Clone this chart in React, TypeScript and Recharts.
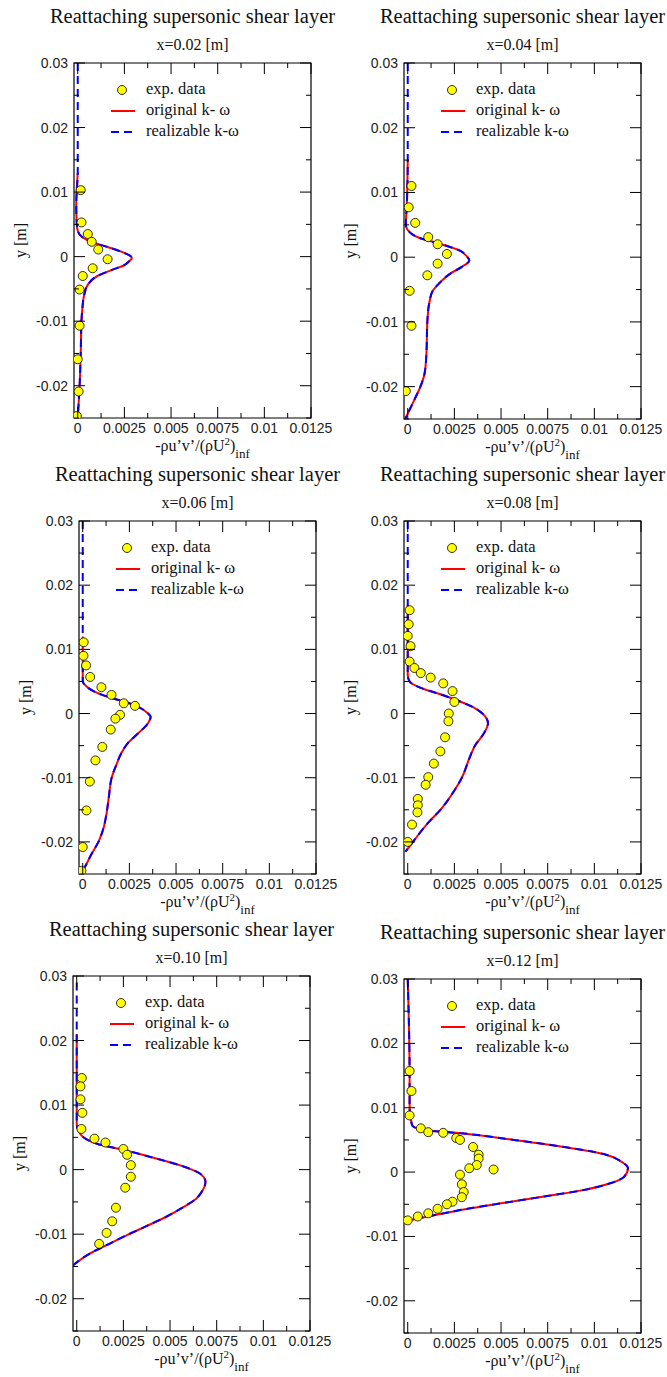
import React from 'react';
import { ComposedChart, Scatter, Line, XAxis, YAxis, ReferenceArea } from 'recharts';

type Pt = { x: number; y: number };

// axis ticks (xmgrace style: major + minor)
const xTicks = [0, 0.00125, 0.0025, 0.00375, 0.005, 0.00625, 0.0075, 0.00875, 0.01, 0.01125, 0.0125];
const xTickLabels = ['0', '', '0.0025', '', '0.005', '', '0.0075', '', '0.01', '', '0.0125'];
const yTicks = [-0.025, -0.02, -0.015, -0.01, -0.005, 0, 0.005, 0.01, 0.015, 0.02, 0.025, 0.03];
const yTickLabels = ['', '-0.02', '', '-0.01', '', '0', '', '0.01', '', '0.02', '', '0.03'];

const stations = ['x=0.02 [m]', 'x=0.04 [m]', 'x=0.06 [m]', 'x=0.08 [m]', 'x=0.10 [m]', 'x=0.12 [m]'];

// experimental data
const exp02: Pt[] = [
  { x: 0.00016, y: 0.0103 }, { x: 0.0002, y: 0.0053 }, { x: 0.00054, y: 0.0035 }, { x: 0.00075, y: 0.0023 },
  { x: 0.0011, y: 0.0011 }, { x: 0.0016, y: -0.0004 }, { x: 0.0008, y: -0.0018 }, { x: 0.00027, y: -0.003 },
  { x: 0.0001, y: -0.0051 }, { x: 0.0001, y: -0.0107 }, { x: 0.0, y: -0.0159 }, { x: 0.00005, y: -0.0209 },
  { x: -0.00005, y: -0.0247 },
];
const exp04: Pt[] = [
  { x: 0.0002, y: 0.011 }, { x: 0.00005, y: 0.0077 }, { x: 0.0004, y: 0.0053 }, { x: 0.0011, y: 0.0031 },
  { x: 0.0016, y: 0.002 }, { x: 0.0021, y: 0.0005 }, { x: 0.0016, y: -0.001 }, { x: 0.00105, y: -0.0028 },
  { x: 0.0001, y: -0.0052 }, { x: 0.0002, y: -0.0106 }, { x: -0.0001, y: -0.0207 },
];
const exp06: Pt[] = [
  { x: 0.00005, y: 0.0111 }, { x: 0.00004, y: 0.009 }, { x: 0.00018, y: 0.0075 }, { x: 0.0004, y: 0.0057 },
  { x: 0.001, y: 0.0041 }, { x: 0.00154, y: 0.0029 }, { x: 0.0022, y: 0.0016 }, { x: 0.0028, y: 0.0012 },
  { x: 0.002, y: -0.0002 }, { x: 0.00175, y: -0.0008 }, { x: 0.0015, y: -0.0025 }, { x: 0.00105, y: -0.0052 },
  { x: 0.00068, y: -0.0073 }, { x: 0.00038, y: -0.0106 }, { x: 0.0002, y: -0.0151 }, { x: 0.0, y: -0.0208 },
  { x: -0.00007, y: -0.0245 },
];
const exp08: Pt[] = [
  { x: 0.0001, y: 0.0161 }, { x: 0.00005, y: 0.0139 }, { x: 0.0, y: 0.0121 }, { x: 0.00015, y: 0.0105 },
  { x: 0.0001, y: 0.0081 }, { x: 0.00036, y: 0.0071 }, { x: 0.0007, y: 0.0063 }, { x: 0.00123, y: 0.0056 },
  { x: 0.0019, y: 0.0047 }, { x: 0.0024, y: 0.0035 }, { x: 0.0025, y: 0.0018 }, { x: 0.0022, y: 0.0 },
  { x: 0.00218, y: -0.0012 }, { x: 0.002, y: -0.0037 }, { x: 0.00175, y: -0.0059 }, { x: 0.0014, y: -0.0078 },
  { x: 0.0011, y: -0.0099 }, { x: 0.00096, y: -0.0111 }, { x: 0.00054, y: -0.0133 }, { x: 0.00054, y: -0.0143 },
  { x: 0.00052, y: -0.0154 }, { x: 0.00023, y: -0.0173 }, { x: 0.0, y: -0.02 },
];
const exp10: Pt[] = [
  { x: 0.00027, y: 0.0142 }, { x: 0.0002, y: 0.0129 }, { x: 0.0002, y: 0.0109 }, { x: 0.0003, y: 0.0088 },
  { x: 0.00025, y: 0.0063 }, { x: 0.00095, y: 0.0048 }, { x: 0.00154, y: 0.0042 }, { x: 0.0025, y: 0.0032 },
  { x: 0.0027, y: 0.0023 }, { x: 0.0029, y: 0.0007 }, { x: 0.0029, y: -0.0011 }, { x: 0.0026, y: -0.0028 },
  { x: 0.0021, y: -0.0059 }, { x: 0.0019, y: -0.008 }, { x: 0.0016, y: -0.0098 }, { x: 0.0012, y: -0.0115 },
];
const exp12: Pt[] = [
  { x: 0.0001, y: 0.0157 }, { x: 0.0002, y: 0.0126 }, { x: 0.0001, y: 0.0088 }, { x: 0.0007, y: 0.0068 },
  { x: 0.0011, y: 0.0062 }, { x: 0.0019, y: 0.0061 }, { x: 0.0026, y: 0.0053 }, { x: 0.0028, y: 0.005 },
  { x: 0.0035, y: 0.0039 }, { x: 0.0038, y: 0.0027 }, { x: 0.0038, y: 0.0021 }, { x: 0.0037, y: 0.0011 },
  { x: 0.0033, y: 0.0006 }, { x: 0.0046, y: 0.0004 }, { x: 0.0028, y: -0.0004 }, { x: 0.0029, y: -0.0019 },
  { x: 0.003, y: -0.0031 }, { x: 0.0029, y: -0.0039 }, { x: 0.0024, y: -0.0046 }, { x: 0.0021, y: -0.005 },
  { x: 0.0016, y: -0.0057 }, { x: 0.0011, y: -0.0064 }, { x: 0.00054, y: -0.0069 }, { x: 0.0, y: -0.0075 },
];

// original k-omega profiles (top to bottom)
const orig02: Pt[] = [
  { x: 0.0, y: 0.013 }, { x: -0.00008, y: 0.008 }, { x: -0.00005, y: 0.005 }, { x: 0.0, y: 0.004 },
  { x: 0.00025, y: 0.003 }, { x: 0.0007, y: 0.0023 }, { x: 0.0016, y: 0.0015 }, { x: 0.0024, y: 0.0007 },
  { x: 0.0029, y: -0.0002 }, { x: 0.0028, y: -0.0006 }, { x: 0.0025, y: -0.0013 }, { x: 0.0018, y: -0.0021 },
  { x: 0.00105, y: -0.003 }, { x: 0.00055, y: -0.0043 }, { x: 0.00034, y: -0.006 }, { x: 0.00025, y: -0.008 },
  { x: 0.0002, y: -0.01 }, { x: 0.00016, y: -0.015 }, { x: 0.0001, y: -0.02 }, { x: 0.0, y: -0.025 },
];
const orig04: Pt[] = [
  { x: 0.0, y: 0.015 }, { x: -0.00005, y: 0.008 }, { x: -0.0001, y: 0.005 }, { x: 0.0, y: 0.0042 },
  { x: 0.0006, y: 0.003 }, { x: 0.0018, y: 0.002 }, { x: 0.0028, y: 0.001 }, { x: 0.0032, y: 0.0 },
  { x: 0.0033, y: -0.0005 }, { x: 0.0029, y: -0.0015 }, { x: 0.0023, y: -0.0025 }, { x: 0.0017, y: -0.004 },
  { x: 0.00134, y: -0.0052 }, { x: 0.00116, y: -0.007 }, { x: 0.00105, y: -0.01 }, { x: 0.001, y: -0.015 },
  { x: 0.0009, y: -0.018 }, { x: 0.00068, y: -0.02 }, { x: 0.00036, y: -0.022 }, { x: -0.00014, y: -0.025 },
];
const orig06: Pt[] = [
  { x: 0.0, y: 0.012 }, { x: 0.0, y: 0.005 }, { x: 0.0001, y: 0.0045 }, { x: 0.00057, y: 0.0035 },
  { x: 0.00146, y: 0.0025 }, { x: 0.0023, y: 0.0018 }, { x: 0.003, y: 0.001 }, { x: 0.0035, y: 0.0 },
  { x: 0.00364, y: -0.0005 }, { x: 0.0035, y: -0.0015 }, { x: 0.003, y: -0.003 }, { x: 0.00245, y: -0.0045 },
  { x: 0.0021, y: -0.006 }, { x: 0.0018, y: -0.008 }, { x: 0.00155, y: -0.01 }, { x: 0.0014, y: -0.013 },
  { x: 0.00125, y: -0.016 }, { x: 0.0011, y: -0.018 }, { x: 0.00084, y: -0.02 }, { x: 0.00045, y: -0.022 },
  { x: 0.0001, y: -0.024 }, { x: -0.0001, y: -0.025 },
];
const orig08: Pt[] = [
  { x: 0.0, y: 0.017 }, { x: 0.0, y: 0.008 }, { x: 0.0, y: 0.006 }, { x: 0.0001, y: 0.005 },
  { x: 0.0007, y: 0.004 }, { x: 0.00175, y: 0.003 }, { x: 0.0027, y: 0.002 }, { x: 0.0035, y: 0.001 },
  { x: 0.004, y: 0.0 }, { x: 0.0043, y: -0.0015 }, { x: 0.0041, y: -0.003 }, { x: 0.0036, y: -0.005 },
  { x: 0.0033, y: -0.007 }, { x: 0.0029, y: -0.01 }, { x: 0.0025, y: -0.012 }, { x: 0.00175, y: -0.015 },
  { x: 0.0011, y: -0.017 }, { x: 0.00054, y: -0.019 }, { x: 0.00015, y: -0.0205 }, { x: -0.00012, y: -0.0215 },
];
const orig10: Pt[] = [
  { x: 0.0, y: 0.021 }, { x: 0.0, y: 0.01 }, { x: 0.0, y: 0.007 }, { x: 0.0001, y: 0.006 },
  { x: 0.00032, y: 0.0051 }, { x: 0.0012, y: 0.0039 }, { x: 0.00246, y: 0.0031 }, { x: 0.0039, y: 0.002 },
  { x: 0.0055, y: 0.0007 }, { x: 0.0066, y: -0.0006 }, { x: 0.0069, y: -0.0019 }, { x: 0.00675, y: -0.0032 },
  { x: 0.0064, y: -0.0045 }, { x: 0.0056, y: -0.006 }, { x: 0.0048, y: -0.0073 }, { x: 0.0037, y: -0.0088 },
  { x: 0.0028, y: -0.01 }, { x: 0.0016, y: -0.0117 }, { x: 0.0007, y: -0.013 }, { x: -0.0002, y: -0.0148 },
];
const orig12: Pt[] = [
  { x: 0.0, y: 0.03 }, { x: 0.0001, y: 0.015 }, { x: 0.0001, y: 0.01 }, { x: 0.00023, y: 0.0073 },
  { x: 0.00068, y: 0.0066 }, { x: 0.003, y: 0.006 }, { x: 0.0057, y: 0.005 }, { x: 0.0084, y: 0.0039 },
  { x: 0.0105, y: 0.0028 }, { x: 0.0114, y: 0.0017 }, { x: 0.0118, y: 0.0006 }, { x: 0.0116, y: -0.0007 },
  { x: 0.0109, y: -0.0017 }, { x: 0.0094, y: -0.0028 }, { x: 0.0073, y: -0.0038 }, { x: 0.0051, y: -0.0048 },
  { x: 0.003, y: -0.0058 }, { x: 0.0016, y: -0.0066 }, { x: 0.00054, y: -0.0072 }, { x: -0.00012, y: -0.0077 },
];

// realizable k-omega: same profile, visible from the top of the frame
const real02: Pt[] = [{ x: 0.0, y: 0.03 }, { x: 0.0, y: 0.02 }, ...orig02];
const real04: Pt[] = [{ x: 0.0, y: 0.03 }, ...orig04];
const real06: Pt[] = [{ x: 0.0, y: 0.03 }, ...orig06];
const real08: Pt[] = [{ x: 0.0, y: 0.03 }, ...orig08];
const real10: Pt[] = [{ x: 0.0, y: 0.029 }, ...orig10];
const real12: Pt[] = [...orig12];

const expSets = [exp02, exp04, exp06, exp08, exp10, exp12];
const origSets = [orig02, orig04, orig06, orig08, orig10, orig12];
const realSets = [real02, real04, real06, real08, real10, real12];

// plot frames on the page
const frames = [
  { l: 74, r: 311, t: 63, b: 418 },
  { l: 404, r: 641, t: 63, b: 419 },
  { l: 79, r: 316, t: 521, b: 874 },
  { l: 404, r: 641, t: 521, b: 874 },
  { l: 73, r: 310, t: 976, b: 1331 },
  { l: 404, r: 641, t: 979, b: 1333 },
];

const SERIF = "'Liberation Serif', 'Times New Roman', Times, serif";
const SANS = "'Liberation Sans', Arial, Helvetica, sans-serif";
const XDOM: [number, number] = [-0.0002, 0.0125];
const YDOM: [number, number] = [-0.025, 0.03];

function Panel({ i }: { i: number }) {
  const f = frames[i];
  const col = i % 2;
  const row = Math.floor(i / 2);
  const bx = col ? 335 : 0;
  const bw = col ? 332 : 345;
  const by = [0, 460, 920][row];
  const bh = row === 2 ? 457 : 460;
  const fl = f.l - bx, fr = f.r - bx, ft = f.t - by, fb = f.b - by;

  const xTick = (p: any) => {
    const idx = xTicks.indexOf(p.payload.value);
    const label = xTickLabels[idx];
    const len = label ? 11 : 5;
    return (
      <g>
        <line x1={p.x} x2={p.x} y1={fb} y2={fb - len} stroke="#000" />
        <line x1={p.x} x2={p.x} y1={ft} y2={ft + len} stroke="#000" />
        {label && (
          <text x={p.x} y={fb + 15} textAnchor="middle" style={{ fontFamily: SANS, fontSize: 14 }} fill="#222">
            {label}
          </text>
        )}
      </g>
    );
  };

  const yTick = (p: any) => {
    const idx = yTicks.indexOf(p.payload.value);
    const label = yTickLabels[idx];
    const len = label ? 11 : 5;
    return (
      <g>
        <line x1={fl} x2={fl + len} y1={p.y} y2={p.y} stroke="#000" />
        <line x1={fr} x2={fr - len} y1={p.y} y2={p.y} stroke="#000" />
        {label && (
          <text x={fl - 6} y={p.y + 5} textAnchor="end" style={{ fontFamily: SANS, fontSize: 14 }} fill="#222">
            {label}
          </text>
        )}
      </g>
    );
  };

  return (
    <div style={{ position: 'absolute', left: bx, top: by, width: bw, height: bh }}>
      <ComposedChart
        width={bw}
        height={bh}
        margin={{ top: ft, left: fl - 40, right: bw - fr, bottom: bh - fb - 20 }}
      >
        <XAxis
          type="number"
          dataKey="x"
          domain={XDOM}
          allowDataOverflow
          ticks={xTicks}
          interval={0}
          height={20}
          axisLine={false}
          tickLine={false}
          tick={xTick}
        />
        <YAxis
          type="number"
          dataKey="y"
          domain={YDOM}
          allowDataOverflow
          ticks={yTicks}
          interval={0}
          width={40}
          axisLine={false}
          tickLine={false}
          tick={yTick}
        />
        <Scatter
          data={expSets[i]}
          isAnimationActive={false}
          shape={(p: any) => (
            <circle cx={p.cx} cy={p.cy} r={4.5} fill="#ffff00" stroke="#000" strokeWidth={0.8} />
          )}
        />
        <Line
          data={origSets[i]}
          dataKey="y"
          type="monotoneY"
          stroke="#ff0000"
          strokeWidth={2}
          dot={false}
          isAnimationActive={false}
        />
        <Line
          data={realSets[i]}
          dataKey="y"
          type="monotoneY"
          stroke="#0000ff"
          strokeWidth={2}
          strokeDasharray="8 5"
          dot={false}
          isAnimationActive={false}
        />
        <ReferenceArea x1={XDOM[0]} x2={XDOM[1]} y1={YDOM[0]} y2={YDOM[1]} fill="none" stroke="#000" strokeWidth={1.2} fillOpacity={0} />
      </ComposedChart>
    </div>
  );
}

const serifText = (size: number) => ({ fontFamily: SERIF, fontSize: size });

function Labels() {
  return (
    <svg width={667} height={1377} style={{ position: 'absolute', left: 0, top: 0, pointerEvents: 'none' }}>
      {frames.map((f, i) => {
        const cx = (f.l + f.r) / 2;
        const cy = (f.t + f.b) / 2;
        return (
          <g key={i} fill="#111">
            <text x={cx} y={f.t - 40} textAnchor="middle" style={serifText(20.5)}>
              Reattaching supersonic shear layer
            </text>
            <text x={cx} y={f.t - 13.5} textAnchor="middle" style={serifText(16)}>
              {stations[i]}
            </text>
            <circle cx={f.l + 48} cy={f.t + 27} r={4.5} fill="#ffff00" stroke="#000" strokeWidth={0.8} />
            <text x={f.l + 72} y={f.t + 31} style={serifText(16.5)}>exp. data</text>
            <line x1={f.l + 37} x2={f.l + 61} y1={f.t + 48} y2={f.t + 48} stroke="#ff0000" strokeWidth={2} />
            <text x={f.l + 72} y={f.t + 52} style={serifText(16.5)}>original k- ω</text>
            <line x1={f.l + 37} x2={f.l + 61} y1={f.t + 69} y2={f.t + 69} stroke="#0000ff" strokeWidth={2} strokeDasharray="8 5" />
            <text x={f.l + 72} y={f.t + 73} style={serifText(16.5)}>realizable k-ω</text>
            <text x={cx + 10} y={f.b + 33} textAnchor="middle" style={serifText(16)}>
              -ρu’v’/(ρU<tspan dy={-6} style={{ fontSize: 11 }}>2</tspan>
              <tspan dy={6}>)</tspan>
              <tspan dy={7} style={{ fontSize: 13 }}>inf</tspan>
            </text>
            <text x={f.l - 48} y={cy} textAnchor="middle" style={serifText(16)} transform={`rotate(-90 ${f.l - 48} ${cy})`}>
              y [m]
            </text>
          </g>
        );
      })}
    </svg>
  );
}

export default function App() {
  return (
    <div style={{ position: 'relative', width: 667, height: 1377, background: '#fff', overflow: 'hidden' }}>
      <style>{'body{margin:0}'}</style>
      {frames.map((_, i) => (
        <Panel key={i} i={i} />
      ))}
      <Labels />
    </div>
  );
}
